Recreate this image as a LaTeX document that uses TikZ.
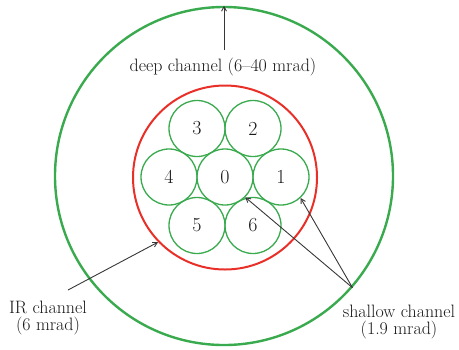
\documentclass[tikz,border=0pt]{standalone}
\usetikzlibrary{arrows.meta}
\definecolor{cgreen}{RGB}{58,170,78}
\definecolor{cred}{RGB}{232,48,40}
\definecolor{ctext}{RGB}{25,25,25}
\definecolor{carrow}{RGB}{55,55,55}
\tikzset{
  ring/.style={circle,draw=cgreen,line width=1.3bp,minimum size=56bp,inner sep=0pt,
     font=\fontsize{20}{20}\selectfont,text=ctext},
  lbl/.style={font=\fontsize{18}{18}\selectfont,text=ctext,align=center,inner sep=0pt},
  arr/.style={draw=carrow,line width=0.9bp,-{Straight Barb[length=4.5bp,width=5bp]}}
}
\begin{document}
\begin{tikzpicture}[x=1bp,y=-1bp]
\useasboundingbox (0,0) rectangle (459,349);
% outer and inner channels
\node[circle,draw=cgreen,line width=2.4bp,minimum size=338bp,inner sep=0pt] (deep) at (224,176) {};
\node[circle,draw=cred,line width=2bp,minimum size=184bp,inner sep=0pt] (ir) at (225,177.5) {};
% shallow channels
\node[ring] (c0) at (225,177) {0};
\node[ring] (c1) at (281,177) {1};
\node[ring] (c2) at (253,128.5) {2};
\node[ring] (c3) at (197,128.5) {3};
\node[ring] (c4) at (169,177) {4};
\node[ring] (c5) at (197,225.5) {5};
\node[ring] (c6) at (253,225.5) {6};
% labels
\node[lbl,anchor=base] (ldeep) at (223,71) {deep channel (6--40 mrad)};
\node[lbl] (lir) at (48,318) {IR channel\\(6 mrad)};
\node[lbl] (lsh) at (399,322) {shallow channel\\(1.9 mrad)};
% connectors
\coordinate (deeps) at (224,50);
\draw[arr] (deeps) -- (deep.north);
\coordinate (irs) at (68,290);
\draw[arr] (irs) -- (ir.224);
\coordinate (shs) at (deep.-41.4);
\draw[arr] (shs) -- (c1.-47);
\draw[arr] (shs) -- (c0.-45);
\end{tikzpicture}
\end{document}
